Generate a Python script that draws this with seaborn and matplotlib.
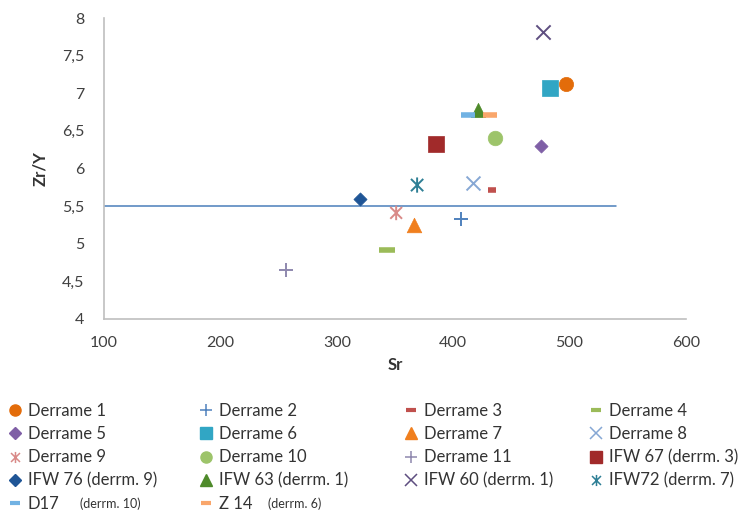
import matplotlib
matplotlib.use("Agg")
import matplotlib.pyplot as plt
from matplotlib.path import Path
from matplotlib.lines import Line2D
import seaborn as sns

# ---- data ----
series_names = ["Derrame 1", "Derrame 2", "Derrame 3", "Derrame 4",
                "Derrame 5", "Derrame 6", "Derrame 7", "Derrame 8",
                "Derrame 9", "Derrame 10", "Derrame 11", "IFW 67 (derrm. 3)",
                "IFW 76 (derrm. 9)", "IFW 63 (derrm. 1)", "IFW 60 (derrm. 1)", "IFW72 (derrm. 7)",
                "D17", "Z 14"]
sr_values = [497, 407, 433, 343,
             475, 483, 366, 417,
             351, 436, 256, 385,
             320, 421, 477, 369,
             413, 432]
zry_values = [7.12, 5.33, 5.71, 4.92,
              6.30, 7.07, 5.25, 5.81,
              5.41, 6.41, 4.65, 6.32,
              5.59, 6.78, 7.81, 5.78,
              6.71, 6.71]
threshold_sr = [100, 540]
threshold_zry = [5.5, 5.5]
x_ticks = [100, 200, 300, 400, 500, 600]
y_ticks = [4, 4.5, 5, 5.5, 6, 6.5, 7, 7.5, 8]
legend_notes = ["(derrm. 10)", "(derrm. 6)"]

# ---- styles ----
star = Path([(-0.5, -0.5), (0.5, 0.5), (-0.5, 0.5), (0.5, -0.5), (0, -0.62), (0, 0.62)],
            [Path.MOVETO, Path.LINETO, Path.MOVETO, Path.LINETO, Path.MOVETO, Path.LINETO])
styles = [
    ("o", "#E36C0A", 105, True),
    ("+", "#4F81BD", 110, False),
    ("_", "#C0504D", 36, False),
    ("_", "#9BBB59", 130, False),
    ("D", "#7F5FA6", 45, True),
    ("s", "#31A6C4", 120, True),
    ("^", "#F07F1E", 110, True),
    ("x", "#86A7D4", 100, False),
    (star, "#D98A88", 110, False),
    ("o", "#9DC46A", 110, True),
    ("+", "#8E88AE", 95, False),
    ("s", "#A12A2A", 120, True),
    ("D", "#1F5596", 45, True),
    ("^", "#4E8A2A", 105, True),
    ("x", "#5E4E80", 105, False),
    (star, "#2E7F95", 120, False),
    ("_", "#71B2E3", 90, False),
    ("_", "#F9A66B", 90, False),
]

sns.set_theme(style="white")
plt.rcParams["font.family"] = ["Lato", "DejaVu Sans"]

fig = plt.figure(figsize=(7.42, 5.26), dpi=100)
W, H = 742, 526
ax = fig.add_axes([104 / W, 1 - 319 / H, (686 - 104) / W, (319 - 18) / H])

sns.lineplot(x=threshold_sr, y=threshold_zry, ax=ax, color="#4A7EBB", linewidth=1.1, zorder=1)

handles = []
for name, xv, yv, (m, c, s, filled) in zip(series_names, sr_values, zry_values, styles):
    if filled:
        sns.scatterplot(x=[xv], y=[yv], marker=m, color=c, s=s, edgecolor=c, linewidth=0.5, ax=ax, zorder=3)
        h = Line2D([], [], linestyle="none", marker=m, color=c,
                   markersize=(6 if m == "D" else 8), markeredgecolor=c)
    elif isinstance(m, Path):
        sns.scatterplot(x=[xv], y=[yv], marker=m, s=s, linewidth=1.4,
                        facecolor="none", edgecolor=c, ax=ax, zorder=3)
        h = Line2D([], [], linestyle="none", marker=m, color=c, markerfacecolor="none",
                   markeredgecolor=c, markersize=8, markeredgewidth=1.1)
    else:
        lw = 4 if m == "_" else 1.4
        sns.scatterplot(x=[xv], y=[yv], marker=m, s=s, linewidth=lw, color=c, ax=ax, zorder=3)
        h = Line2D([], [], linestyle="none", marker=m, color=c,
                   markersize=8 if m != "_" else 7,
                   markeredgewidth=(3 if m == "_" else 1.1))
    handles.append(h)

ax.set_xlim(100, 600)
ax.set_ylim(4, 8)
ax.set_xticks(x_ticks)
ax.set_yticks(y_ticks)
ax.set_yticklabels([f"{v:g}".replace(".", ",") for v in y_ticks])
ax.set_xticklabels([str(v) for v in x_ticks])
ax.tick_params(axis="both", length=0, labelsize=11.5, colors="#404040")
ax.tick_params(axis="y", pad=14)
ax.tick_params(axis="x", pad=12)
for sp in ["top", "right"]:
    ax.spines[sp].set_visible(False)
for sp in ["left", "bottom"]:
    ax.spines[sp].set_color("#BFBFBF")
    ax.spines[sp].set_linewidth(1.2)
ax.set_xlabel("Sr", fontsize=12, fontweight="bold", color="#333333", labelpad=5)
ax.set_ylabel("Zr/Y", fontsize=12, fontweight="bold", color="#333333", labelpad=10)
if ax.get_legend():
    ax.get_legend().remove()

# legend, row-major in 4 columns
col_x = [7, 198, 403, 588]
for ci in range(4):
    idx = list(range(ci, len(series_names), 4))
    fig.legend([handles[i] for i in idx], [series_names[i] for i in idx],
               loc="upper left", bbox_to_anchor=(col_x[ci] / W, 1 - 403 / H),
               frameon=False, fontsize=12, labelspacing=0.43, handlelength=0.9,
               handletextpad=0.35, borderaxespad=0, borderpad=0, labelcolor="#333333")
fig.text(80 / W, 1 - 504 / H, legend_notes[0], fontsize=9, color="#333333", va="center")
fig.text(268 / W, 1 - 504 / H, legend_notes[1], fontsize=9, color="#333333", va="center")

fig.savefig("out.png", dpi=100, facecolor="white")
